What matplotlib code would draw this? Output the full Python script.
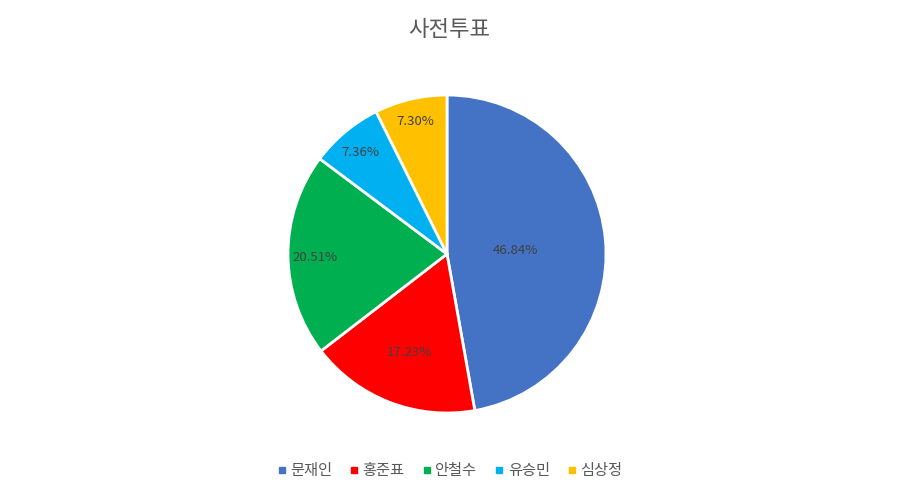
import matplotlib
matplotlib.use("Agg")
import matplotlib.pyplot as plt
import numpy as np

plt.rcParams['font.family'] = ['Noto Sans CJK KR', 'DejaVu Sans']

categories = ['문재인', '홍준표', '안철수', '유승민', '심상정']
values = [46.84, 17.23, 20.51, 7.36, 7.30]
labels = ['46.84%', '17.23%', '20.51%', '7.36%', '7.30%']
colors = ['#4472C4', '#FF0000', '#00B050', '#00B0F0', '#FFC000']
label_radius = [0.43, 0.65, 0.83, 0.85, 0.87]

W, H = 898, 495
fig = plt.figure(figsize=(W / 100, H / 100), dpi=100)
cx, cy, r = 447, 254, 159
ax = fig.add_axes([(cx - r) / W, (H - cy - r) / H, 2 * r / W, 2 * r / H])
wedges, _ = ax.pie(values, colors=colors, startangle=90, counterclock=False,
                   wedgeprops=dict(edgecolor='white', linewidth=2), radius=1.0)
for w, lab, lr in zip(wedges, labels, label_radius):
    ang = np.deg2rad((w.theta1 + w.theta2) / 2)
    ax.text(lr * np.cos(ang), lr * np.sin(ang) - 0.015, lab, ha='center', va='center',
            fontsize=9.5, color='#404040')
ax.set_xlim(-1, 1)
ax.set_ylim(-1, 1)
ax.set_aspect('equal')
ax.axis('off')

fig.text(0.5, 1 - 30 / H, '사전투표', ha='center', va='center', fontsize=16, color='#595959')

handles = [plt.Line2D([], [], marker='s', linestyle='none', markersize=5,
                      markerfacecolor=c, markeredgecolor=c) for c in colors]
fig.legend(handles, categories, loc='center', bbox_to_anchor=(0.5, 1 - 471 / H),
           ncol=5, frameon=False, fontsize=11, handletextpad=0.15, columnspacing=1.05,
           labelcolor='#595959', handlelength=0.8)

fig.savefig('out.png', dpi=100, facecolor='white')
